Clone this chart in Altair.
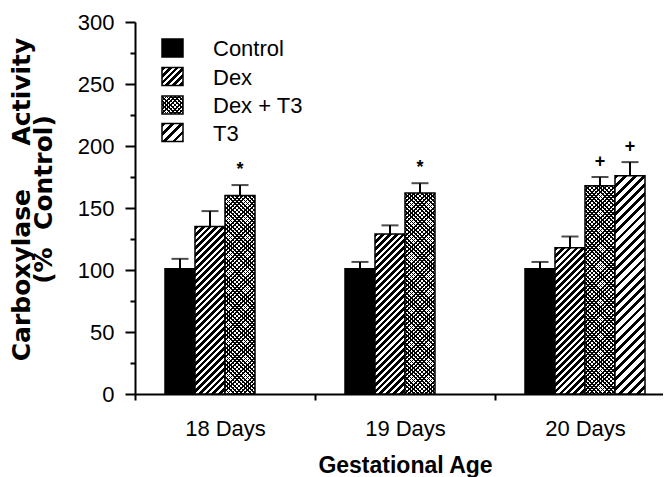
import math
import altair as alt
import pandas as pd

# ---------------- data ----------------
ages = ["18 Days", "19 Days", "20 Days"]
groups = ["Control", "Dex", "Dex + T3", "T3"]

bar_age = ["18 Days", "18 Days", "18 Days",
           "19 Days", "19 Days", "19 Days",
           "20 Days", "20 Days", "20 Days", "20 Days"]
bar_group = ["Control", "Dex", "Dex + T3",
             "Control", "Dex", "Dex + T3",
             "Control", "Dex", "Dex + T3", "T3"]
bar_value = [101, 135, 160, 101, 129, 162, 101, 118, 168, 176]
bar_err = [109, 147.5, 168.5, 106.5, 136, 170, 106.5, 127, 175, 187]

sig_age = ["18 Days", "19 Days", "20 Days", "20 Days"]
sig_group = ["Dex + T3", "Dex + T3", "Dex + T3", "T3"]
sig_symbol = ["*", "*", "+", "+"]

y_title = ["Carboxylase\u00a0\u00a0\u00a0\u00a0\u00a0Activity",
           "\u00a0\u00a0\u00a0\u00a0\u00a0(%\u00a0\u00a0Control)"]
x_title = "Gestational Age"

# ---------------- layout constants ----------------
PLOT_W = 528
PLOT_H = 372
X_RANGE = 540
Y_MAX = 300
SLOT_PAD = 1.0
SLOT_W = X_RANGE / len(ages) / (len(groups) + 2 * SLOT_PAD)
FONT = "Liberation Sans"

df = pd.DataFrame({"age": bar_age, "group": bar_group,
                   "value": bar_value, "err": bar_err})
err_lookup = {(a, g): e for a, g, e in zip(bar_age, bar_group, bar_err)}
df_sig = pd.DataFrame({"age": sig_age, "group": sig_group, "sym": sig_symbol,
                       "err": [err_lookup[(a, g)] for a, g in zip(sig_age, sig_group)]})


def stripes(w, h, period, frac, ink="black", paper="white", direction="/"):
    """Hard-edged diagonal stripes as a linear gradient (bbox units)."""
    k = (w + h) / (w * w + h * h)
    D = (w + h) / math.sqrt(2)
    n = int(math.ceil(D / period))
    stops = []
    for j in range(n):
        t0 = min(1.0, j * period / D)
        t1 = min(1.0, (j * period + frac * period) / D)
        t2 = min(1.0, (j + 1) * period / D)
        stops += [(t0, ink), (t1, ink), (t1, paper), (t2, paper)]
    if direction == "/":
        x1, y1, x2, y2 = 0, 0, k * w, k * h
    else:
        x1, y1, x2, y2 = 0, 1, k * w, 1 - k * h
    return alt.LinearGradient(
        gradient="linear",
        stops=[alt.GradientStop(offset=round(o, 5), color=c) for o, c in stops],
        x1=round(x1, 6), y1=round(y1, 6), x2=round(x2, 6), y2=round(y2, 6))


def fills_for(group, w, h):
    if group == "Control":
        return ["black"]
    if group == "Dex":
        return [stripes(w, h, 4.8, 0.55)]
    if group == "Dex + T3":
        return [stripes(w, h, 3.0, 0.4),
                stripes(w, h, 3.0, 0.4, paper="rgba(255,255,255,0)", direction="\\")]
    return [stripes(w, h, 6.5, 0.42)]


x_axis = alt.Axis(labelAngle=0, labelFontSize=22, labelColor="black", labelPadding=18,
                  labelFont=FONT, tickBand="extent", tickSize=6, tickWidth=2,
                  tickColor="black", domainWidth=2, domainColor="black", grid=False,
                  titleFontSize=23, titleFontWeight="bold", titleColor="black",
                  titleFont=FONT, titlePadding=15)
y_axis = alt.Axis(values=list(range(0, 301, 25)),
                  labelExpr="datum.value % 50 === 0 ? datum.label : ''",
                  labelFontSize=22, labelColor="black", labelFont=FONT, labelPadding=11,
                  tickSize={"condition": {"test": "datum.value % 50 === 0", "value": 10}, "value": 5},
                  tickWidth=2, tickColor="black", domainWidth=2, domainColor="black",
                  grid=False, titleFontSize=25, titleFontWeight="bold", titleColor="black",
                  titleFont="DejaVu Sans", titleLineHeight=22, titlePadding=21, titleY=177)

x_scale = alt.Scale(domain=ages, range=[0, X_RANGE], paddingInner=0, paddingOuter=0)
xo_scale = alt.Scale(domain=groups, paddingInner=0, paddingOuter=SLOT_PAD)
y_scale = alt.Scale(domain=[0, Y_MAX], nice=False, zero=True)


def X():
    return alt.X("age:N", scale=x_scale, axis=x_axis, title=x_title)


def XO():
    return alt.XOffset("group:N", scale=xo_scale)


def Y(field):
    return alt.Y(field, type="quantitative", scale=y_scale, axis=y_axis, title=y_title)


layers = []
# bars
for a, g, v in zip(bar_age, bar_group, bar_value):
    h = v * PLOT_H / Y_MAX
    flt = (alt.datum.age == a) & (alt.datum.group == g)
    for i, f in enumerate(fills_for(g, SLOT_W, h)):
        layers.append(
            alt.Chart(df).transform_filter(flt)
            .mark_bar(fill=f, stroke="black", strokeWidth=1.5 if i == 0 else 0)
            .encode(x=X(), xOffset=XO(), y=Y("value"))
        )

# error bars (upper only)
layers.append(alt.Chart(df).mark_rule(color="black", strokeWidth=2)
              .encode(x=X(), xOffset=XO(), y=Y("value"), y2="err:Q"))
layers.append(alt.Chart(df).mark_tick(color="black", thickness=2, size=17)
              .encode(x=X(), xOffset=XO(), y=Y("err")))

# significance marks
layers.append(alt.Chart(df_sig).mark_text(fontSize=18, fontWeight="bold", dy=-10,
                                          baseline="alphabetic", align="center",
                                          fill="black", font=FONT)
              .encode(x=X(), xOffset=XO(), y=Y("err"), text="sym:N"))

# legend (drawn inside the plot, top-left)
LEG_X0, LEG_X1 = 27, 48
LEG_BOX_H = 18
LEG_Y = [26, 54.5, 83, 110.5]
LEG_TEXT_X = 78
for g, cy in zip(groups, LEG_Y):
    for i, f in enumerate(fills_for(g, LEG_X1 - LEG_X0, LEG_BOX_H)):
        layers.append(
            alt.Chart(pd.DataFrame({"g": [g]}))
            .mark_rect(fill=f, stroke="black", strokeWidth=1.5 if i == 0 else 0)
            .encode(x=alt.value(LEG_X0), x2=alt.value(LEG_X1),
                    y=alt.value(cy - LEG_BOX_H / 2), y2=alt.value(cy + LEG_BOX_H / 2))
        )
    layers.append(
        alt.Chart(pd.DataFrame({"g": [g]}))
        .mark_text(align="left", baseline="middle", fontSize=22, font=FONT, fill="black")
        .encode(text="g:N", x=alt.value(LEG_TEXT_X), y=alt.value(cy + 1))
    )

chart = (
    alt.layer(*layers)
    .properties(width=PLOT_W, height=PLOT_H,
                autosize=alt.AutoSizeParams(type="none"),
                padding={"left": 127, "top": 14, "right": 0, "bottom": 90})
    .configure(font=FONT)
    .configure_view(strokeOpacity=0)
)

chart.save("out.html", embed_options={"renderer": "svg", "actions": False})
